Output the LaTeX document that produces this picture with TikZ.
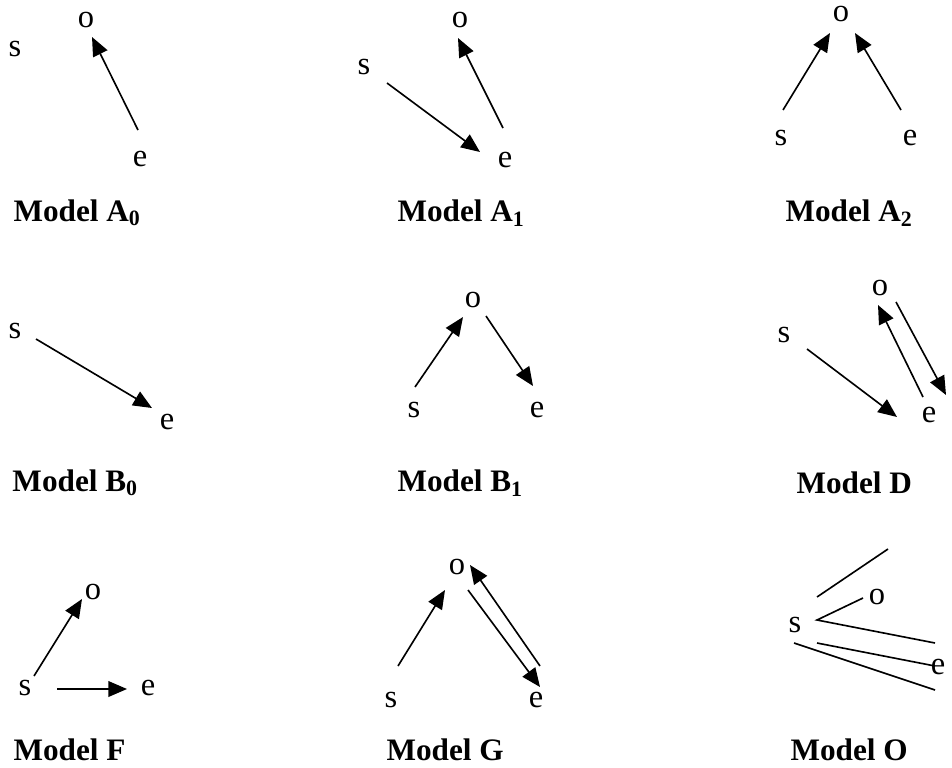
\documentclass[tikz,border=0pt]{standalone}
\usepackage{fontspec}
\setmainfont{Liberation Serif}
\usetikzlibrary{arrows.meta}
\begin{document}
\begin{tikzpicture}[x=0.4pt,y=-0.4pt,
  lt/.style={font=\fontsize{13}{15}\selectfont, inner sep=0pt},
  mlabel/.style={font=\fontsize{12.5}{15}\selectfont\bfseries, inner sep=0pt, anchor=west},
  arr/.style={line width=0.65pt, -{Triangle[length=7.5pt,width=6.3pt]}},
  ln/.style={line width=0.65pt}]
\useasboundingbox (0,0) rectangle (952,767);
% ---------- Model A0
\node[lt] (a0s) at (15,49) {s};
\node[lt] (a0o) at (86,20) {o};
\node[lt] (a0e) at (140,159) {e};
\coordinate (a0e1) at (138,130);
\coordinate (a0o1) at (92,37);
\draw[arr] (a0e1) -- (a0o1);
\node[mlabel] (capA0) at (13,213) {Model A\textsubscript{0}};
% ---------- Model A1
\node[lt] (a1s) at (364,67) {s};
\node[lt] (a1o) at (460,20) {o};
\node[lt] (a1e) at (505,160) {e};
\coordinate (a1s1) at (387,83);
\coordinate (a1e1) at (480,152);
\coordinate (a1e2) at (503,128);
\coordinate (a1o1) at (458,38);
\draw[arr] (a1s1) -- (a1e1);
\draw[arr] (a1e2) -- (a1o1);
\node[mlabel] (capA1) at (397,213) {Model A\textsubscript{1}};
% ---------- Model A2
\node[lt] (a2o) at (841,14) {o};
\node[lt] (a2s) at (781,138) {s};
\node[lt] (a2e) at (910,138) {e};
\coordinate (a2s1) at (783,110);
\coordinate (a2o1) at (830,33);
\coordinate (a2e1) at (901,110);
\coordinate (a2o2) at (855,33);
\draw[arr] (a2s1) -- (a2o1);
\draw[arr] (a2e1) -- (a2o2);
\node[mlabel] (capA2) at (785,213) {Model A\textsubscript{2}};
% ---------- Model B0
\node[lt] (b0s) at (15,331) {s};
\node[lt] (b0e) at (167,422) {e};
\coordinate (b0s1) at (36,339);
\coordinate (b0e1) at (152,408);
\draw[arr] (b0s1) -- (b0e1);
\node[mlabel] (capB0) at (12,483) {Model B\textsubscript{0}};
% ---------- Model B1
\node[lt] (b1o) at (473,300) {o};
\node[lt] (b1s) at (414,410) {s};
\node[lt] (b1e) at (537,410) {e};
\coordinate (b1s1) at (415,387);
\coordinate (b1o1) at (463,317);
\coordinate (b1o2) at (486,316);
\coordinate (b1e1) at (533,386);
\draw[arr] (b1s1) -- (b1o1);
\draw[arr] (b1o2) -- (b1e1);
\node[mlabel] (capB1) at (397,483) {Model B\textsubscript{1}};
% ---------- Model D
\node[lt] (do) at (880,288) {o};
\node[lt] (ds) at (784,335) {s};
\node[lt] (de) at (929,415) {e};
\coordinate (ds1) at (807,349);
\coordinate (de1) at (897,417);
\coordinate (de2) at (923,397);
\coordinate (do1) at (878,305);
\coordinate (do2) at (896,302);
\coordinate (de3) at (946,395);
\draw[arr] (ds1) -- (de1);
\draw[arr] (de2) -- (do1);
\draw[arr] (do2) -- (de3);
\node[mlabel] (capD) at (796,483) {Model D};
% ---------- Model F
\node[lt] (fo) at (93,592) {o};
\node[lt] (fs) at (25,688) {s};
\node[lt] (fe) at (148,688) {e};
\coordinate (fs1) at (34,676);
\coordinate (fo1) at (82,599);
\coordinate (fs2) at (57,689);
\coordinate (fe1) at (127,689);
\draw[arr] (fs1) -- (fo1);
\draw[arr] (fs2) -- (fe1);
\node[mlabel] (capF) at (13,750) {Model F};
% ---------- Model G
\node[lt] (go) at (457,567) {o};
\node[lt] (gs) at (391,700) {s};
\node[lt] (ge) at (536,700) {e};
\coordinate (gs1) at (398,666);
\coordinate (go1) at (445,590);
\coordinate (ge1) at (540,666);
\coordinate (go2) at (470,565);
\coordinate (go3) at (468,590);
\coordinate (ge2) at (540,687);
\draw[arr] (gs1) -- (go1);
\draw[arr] (ge1) -- (go2);
\draw[arr] (go3) -- (ge2);
\node[mlabel] (capG) at (386,750) {Model G};
% ---------- Model O
\node[lt] (os) at (795,625) {s};
\node[lt] (oo) at (877,597) {o};
\node[lt] (oe) at (938,667) {e};
\coordinate (l1a) at (817,597);
\coordinate (l1b) at (888,549);
\coordinate (w0) at (817,620);
\coordinate (w1) at (863,598);
\coordinate (w2) at (935,643);
\coordinate (l4a) at (817,643);
\coordinate (l4b) at (935,666);
\coordinate (l5a) at (794,643);
\coordinate (l5b) at (935,690);
\draw[ln] (l1a) -- (l1b);
\draw[ln] (w1) -- (w0) -- (w2);
\draw[ln] (l4a) -- (l4b);
\draw[ln] (l5a) -- (l5b);
\node[mlabel] (capO) at (790,750) {Model O};
\end{tikzpicture}
\end{document}
